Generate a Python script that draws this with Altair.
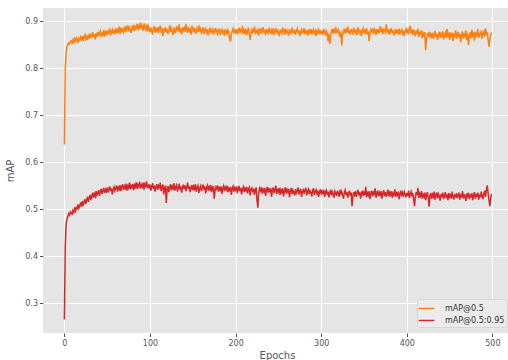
import altair as alt
import pandas as pd

# mAP@0.5 per epoch (thousandths)
map50 = [
    637, 800, 832, 845, 850, 853, 851, 856, 858, 854,
    860, 855, 862, 857, 864, 859, 853, 863, 860, 866,
    861, 868, 858, 866, 871, 862, 867, 860, 869, 865,
    873, 864, 870, 876, 866, 872, 861, 874, 869, 877,
    868, 875, 879, 866, 873, 870, 881, 867, 876, 872,
    880, 871, 878, 884, 869, 877, 882, 873, 879, 875,
    885, 874, 881, 877, 888, 872, 883, 879, 886, 876,
    880, 889, 876, 884, 891, 878, 886, 881, 875, 887,
    883, 892, 879, 888, 885, 894, 880, 890, 886, 897,
    884, 891, 879, 895, 887, 882, 893, 878, 889, 884,
    876, 886, 880, 871, 884, 889, 875, 883, 879, 887,
    874, 885, 890, 878, 882, 868, 884, 879, 887, 876,
    883, 872, 880, 891, 877, 885, 879, 870, 886, 881,
    874, 889, 883, 878, 893, 876, 884, 872, 887, 880,
    885, 877, 894, 881, 875, 888, 879, 884, 871, 890,
    882, 876, 886, 879, 873, 884, 880, 891, 877, 883,
    875, 881, 887, 872, 879, 884, 876, 882, 869, 880,
    886, 874, 879, 883, 871, 878, 885, 877, 881, 873,
    879, 884, 870, 877, 882, 875, 880, 868, 883, 876,
    872, 881, 877, 864, 856, 871, 879, 884, 874, 880,
    876, 883, 871, 879, 886, 874, 881, 877, 889, 872,
    880, 875, 884, 870, 878, 886, 873, 860, 876, 882,
    874, 881, 888, 872, 879, 876, 884, 869, 880, 885,
    873, 879, 887, 875, 881, 870, 883, 877, 874, 886,
    878, 872, 881, 876, 885, 870, 879, 883, 874, 880,
    876, 868, 882, 877, 873, 886, 879, 871, 884, 875,
    880, 874, 869, 883, 877, 872, 886, 878, 875, 881,
    871, 879, 884, 874, 880, 868, 877, 882, 873, 879,
    885, 872, 878, 874, 881, 869, 880, 876, 883, 871,
    877, 882, 874, 879, 868, 881, 876, 884, 872, 878,
    874, 880, 871, 883, 877, 869, 879, 874, 857, 872,
    851, 868, 878, 884, 873, 880, 876, 887, 874, 879,
    882, 871, 866, 879, 848, 870, 877, 884, 873, 881,
    876, 888, 874, 880, 871, 883, 877, 873, 886, 879,
    875, 882, 870, 887, 878, 874, 881, 868, 879, 884,
    873, 880, 876, 885, 871, 878, 857, 874, 882, 877,
    881, 873, 886, 878, 870, 883, 876, 880, 874, 889,
    877, 882, 872, 884, 879, 875, 893, 880, 874, 883,
    871, 879, 885, 874, 880, 869, 877, 883, 873, 879,
    875, 884, 871, 878, 882, 874, 880, 868, 877, 883,
    876, 881, 872, 885, 890, 874, 879, 870, 882, 876,
    868, 879, 873, 884, 866, 877, 871, 880, 863, 874,
    869, 876, 838, 861, 874, 868, 877, 864, 872, 867,
    875, 862, 870, 879, 866, 873, 860, 871, 877, 864,
    872, 866, 878, 861, 870, 875, 864, 883, 869, 873,
    860, 876, 868, 872, 857, 874, 866, 880, 862, 871,
    877, 865, 873, 855, 869, 878, 863, 871, 867, 880,
    860, 874, 849, 868, 876, 863, 881, 869, 873, 858,
    877, 866, 872, 883, 864, 875, 869, 880, 862, 873,
    878, 867, 884, 871, 876, 862, 845, 859, 871, 875,
]

# mAP@0.5:0.95 per epoch (thousandths)
map5095 = [
    265, 420, 468, 478, 484, 490, 487, 494, 491, 489,
    497, 493, 501, 496, 505, 499, 510, 502, 507, 514,
    505, 517, 509, 513, 521, 511, 519, 526, 515, 524,
    530, 519, 528, 535, 524, 532, 527, 538, 529, 534,
    540, 528, 537, 543, 532, 539, 545, 534, 541, 537,
    546, 535, 542, 548, 538, 544, 531, 541, 547, 539,
    545, 550, 537, 546, 542, 551, 538, 547, 553, 541,
    548, 544, 554, 539, 549, 545, 556, 542, 550, 546,
    553, 540, 551, 547, 557, 543, 552, 548, 558, 544,
    551, 547, 556, 541, 553, 549, 559, 545, 550, 546,
    552, 539, 548, 555, 543, 550, 537, 547, 553, 541,
    549, 544, 556, 538, 547, 552, 531, 545, 550, 513,
    542, 549, 536, 546, 553, 540, 548, 544, 555, 539,
    547, 551, 537, 545, 554, 541, 548, 535, 546, 552,
    543, 550, 538, 547, 556, 542, 549, 536, 545, 551,
    540, 548, 543, 553, 537, 546, 550, 534, 544, 549,
    538, 546, 552, 541, 548, 533, 545, 550, 539, 547,
    542, 551, 536, 545, 549, 522, 540, 547, 543, 550,
    537, 545, 541, 548, 532, 544, 549, 538, 546, 542,
    550, 536, 544, 540, 547, 530, 543, 548, 537, 545,
    541, 548, 534, 543, 549, 538, 545, 531, 542, 547,
    536, 544, 540, 547, 533, 542, 546, 529, 541, 545,
    538, 543, 530, 541, 546, 518, 503, 535, 544, 539,
    546, 533, 542, 537, 545, 528, 540, 547, 535, 542,
    538, 544, 526, 541, 546, 534, 540, 550, 532, 543,
    537, 545, 530, 541, 536, 544, 527, 539, 546, 533,
    541, 536, 543, 525, 538, 545, 532, 540, 535, 529,
    542, 534, 539, 546, 531, 538, 543, 526, 537, 541,
    533, 540, 545, 529, 537, 542, 532, 539, 535, 527,
    539, 544, 530, 537, 541, 533, 539, 526, 536, 542,
    531, 538, 534, 541, 526, 536, 540, 530, 537, 525,
    535, 541, 529, 537, 532, 524, 538, 534, 528, 539,
    533, 526, 541, 531, 537, 529, 522, 535, 540, 530,
    536, 524, 533, 539, 528, 535, 506, 527, 536, 530,
    538, 526, 534, 541, 529, 536, 522, 533, 539, 528,
    535, 530, 547, 525, 534, 529, 538, 521, 532, 539,
    527, 535, 530, 544, 524, 533, 539, 527, 535, 530,
    538, 522, 532, 540, 528, 536, 526, 534, 541, 527,
    535, 530, 538, 524, 533, 528, 542, 526, 534, 530,
    537, 521, 532, 539, 527, 535, 529, 537, 531, 525,
    534, 528, 539, 523, 532, 537, 527, 534, 520, 506,
    526, 536, 530, 545, 524, 533, 528, 538, 522, 531,
    526, 535, 519, 530, 536, 524, 505, 528, 534, 522,
    531, 526, 537, 520, 530, 535, 523, 532, 527, 518,
    532, 525, 535, 521, 529, 536, 523, 531, 519, 534,
    526, 532, 522, 537, 527, 520, 531, 525, 534, 523,
    529, 535, 520, 531, 525, 538, 522, 532, 526, 517,
    533, 527, 535, 521, 531, 525, 534, 519, 529, 536,
    522, 532, 526, 535, 520, 531, 525, 537, 527, 521,
    532, 539, 526, 541, 550, 533, 519, 506, 523, 532,
]

series_names = ["mAP@0.5", "mAP@0.5:0.95"]
series_colors = ["#ff7f0e", "#d62728"]
x_ticks = [0, 100, 200, 300, 400, 500]
y_ticks = [0.3, 0.4, 0.5, 0.6, 0.7, 0.8, 0.9]

rows = []
for name, vals in zip(series_names, [map50, map5095]):
    for ep, v in enumerate(vals):
        rows.append({"Epoch": ep, "mAP": v / 1000.0, "series": name})
df = pd.DataFrame(rows)

axis_common = dict(
    labelFontSize=8, labelColor="#555555", tickColor="#555555", tickSize=3.5,
    titleFontSize=10, titleColor="#555555", titleFontWeight="normal",
    domain=False, grid=True, gridColor="white", gridWidth=1,
    labelFont="DejaVu Sans", titleFont="DejaVu Sans",
)

chart = (
    alt.Chart(df)
    .mark_line(strokeWidth=1.5, clip=True)
    .encode(
        x=alt.X(
            "Epoch:Q",
            scale=alt.Scale(domain=[-25, 518.2], nice=False, zero=False),
            axis=alt.Axis(
                title="Epochs", values=x_ticks, format="d", labelPadding=3,
                titleX=234, titleY=17, titleBaseline="top", **axis_common,
            ),
        ),
        y=alt.Y(
            "mAP:Q",
            scale=alt.Scale(domain=[0.2362, 0.9277], nice=False, zero=False),
            axis=alt.Axis(
                title="mAP", values=y_ticks, format=".1f", labelPadding=2,
                titleX=-28, **axis_common,
            ),
        ),
        color=alt.Color(
            "series:N",
            scale=alt.Scale(domain=series_names, range=series_colors),
            legend=alt.Legend(
                title=None, orient="none", legendX=374, legendY=291,
                symbolType="M-1.2,0H1.2", symbolSize=169, symbolStrokeWidth=1.5,
                labelFontSize=8, labelColor="#333333", labelFont="DejaVu Sans",
                labelOffset=11, fillColor="#ebebeb", strokeColor="#d6d6d6",
                padding=2, rowPadding=0, cornerRadius=2,
            ),
        ),
    )
    .properties(
        width=465, height=325,
        padding={"left": 43, "top": 8, "right": 0, "bottom": 27},
        autosize=alt.AutoSizeParams(type="none"),
        background="white",
    )
    .configure_view(fill="#e5e5e5", stroke=None)
)

chart.save("out.html", embed_options={"renderer": "svg", "actions": False})
